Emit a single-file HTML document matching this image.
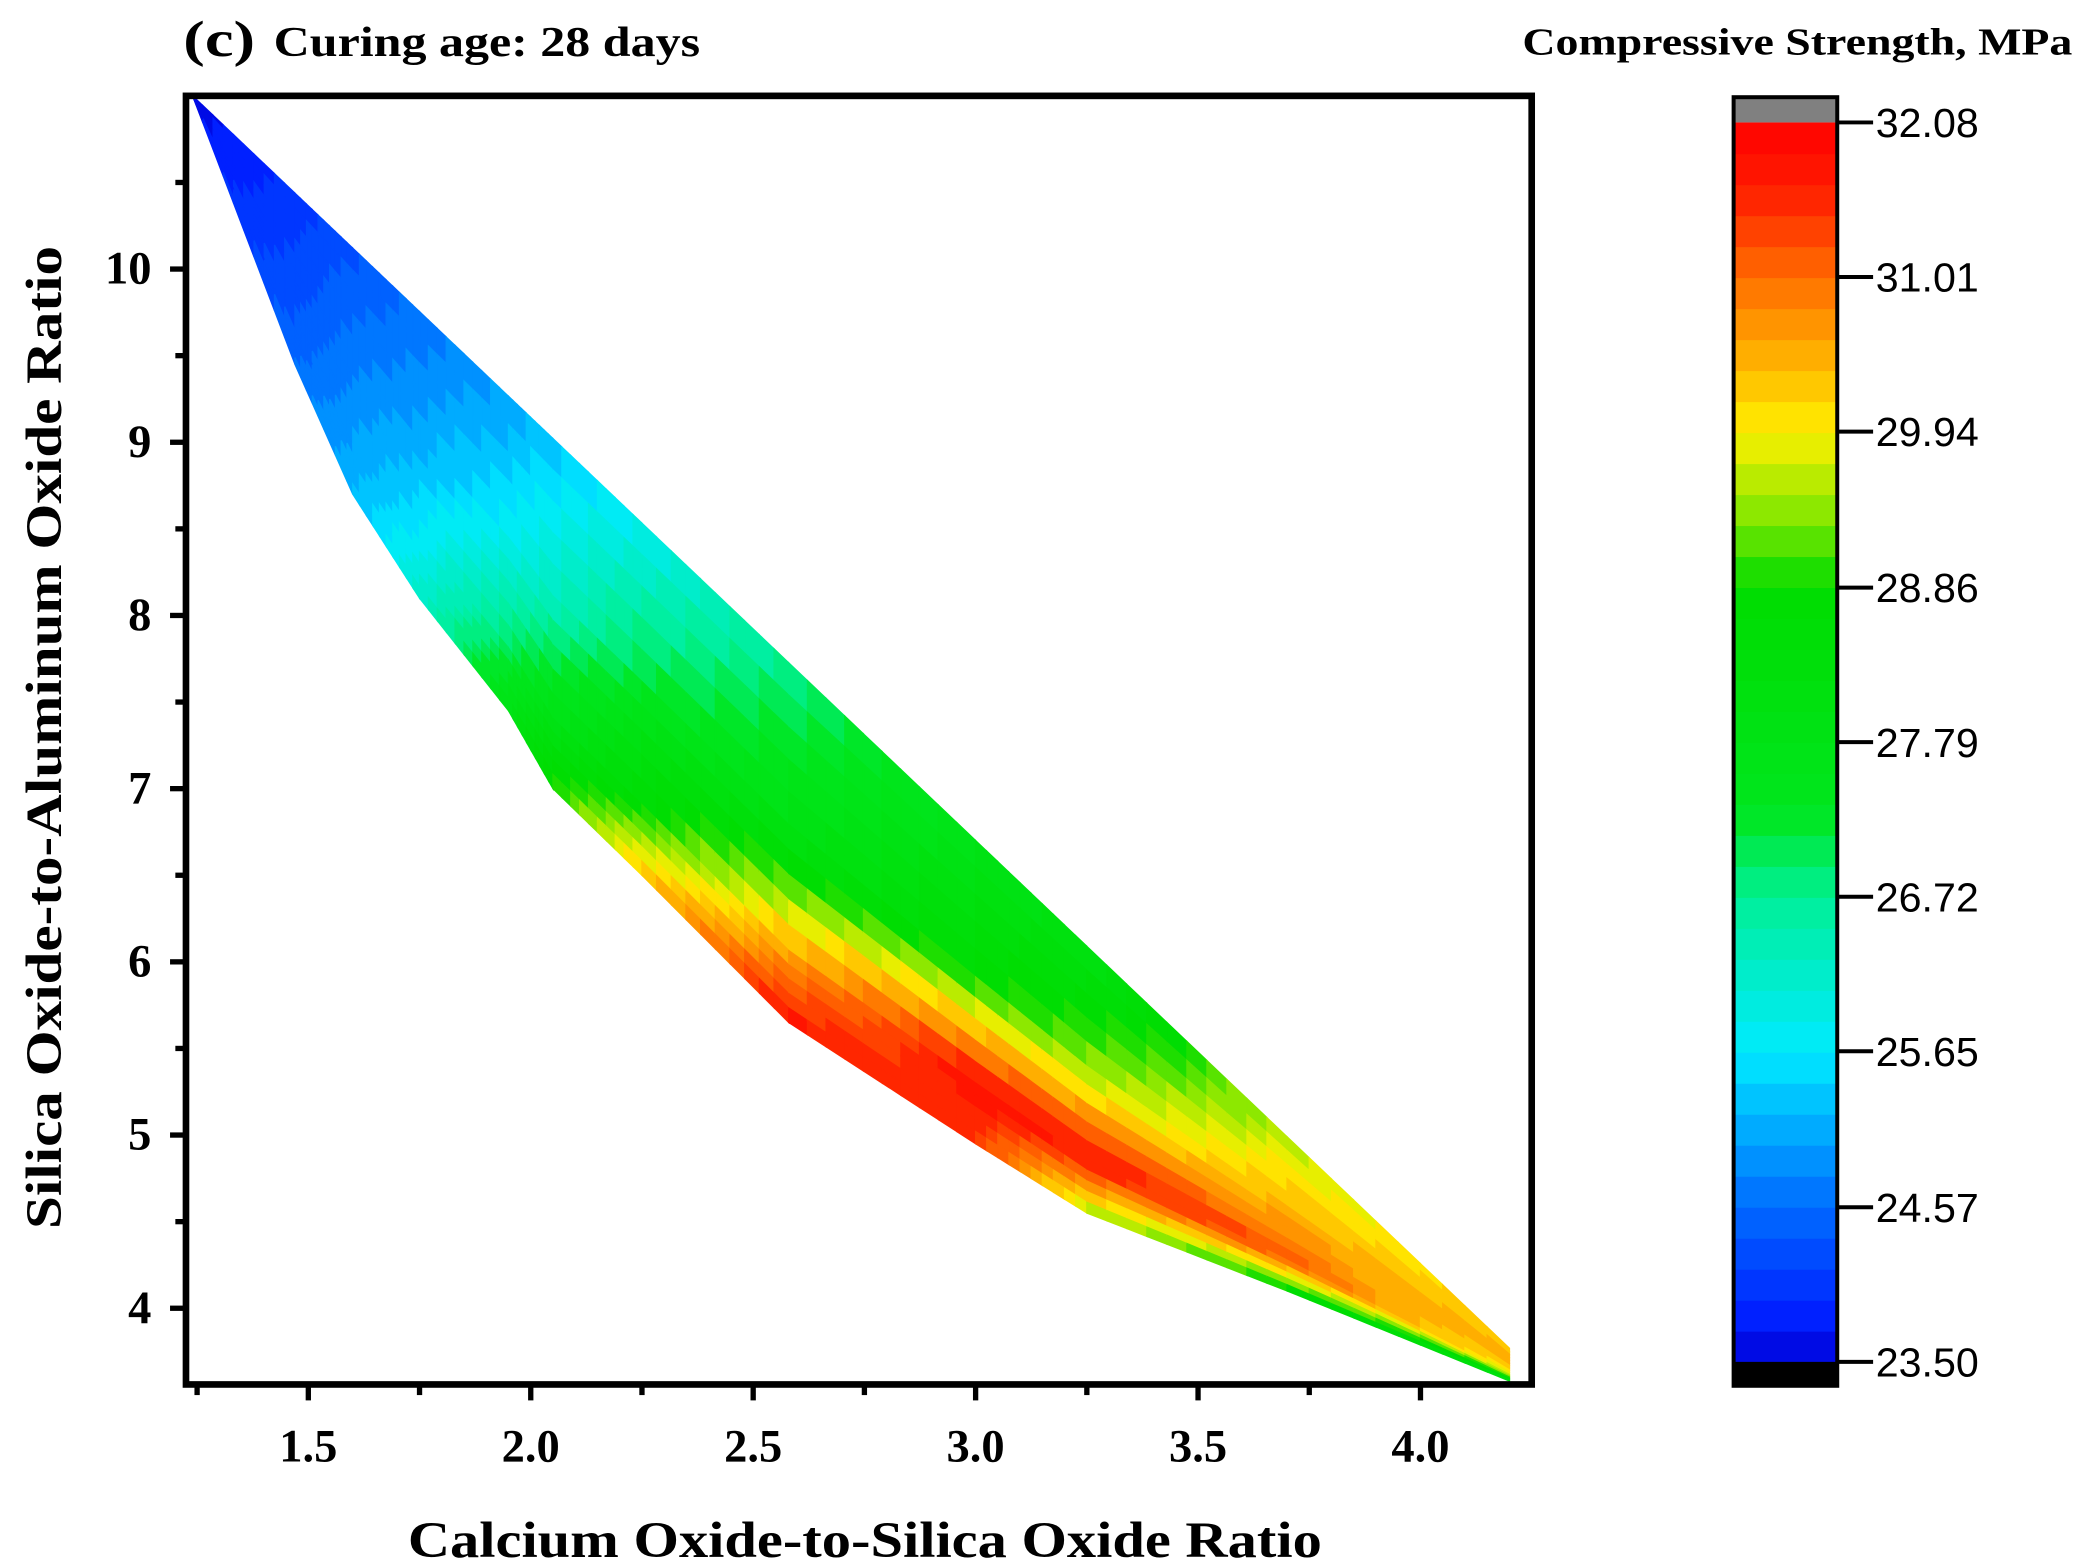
<!DOCTYPE html>
<html><head><meta charset="utf-8"><style>html,body{margin:0;padding:0;background:#fff}svg{display:block}</style></head>
<body>
<svg id="chart" width="2083" height="1568" viewBox="0 0 1568 1180" xmlns="http://www.w3.org/2000/svg">
<g id="mesh"></g>
<g id="axes"></g>
<g id="cbar"></g>
<text x="138" y="42" font-family="Liberation Serif, serif" font-weight="bold" font-size="38" textLength="54" lengthAdjust="spacingAndGlyphs">(c)</text>
<text x="206" y="42" font-family="Liberation Serif, serif" font-weight="bold" font-size="32" textLength="321" lengthAdjust="spacingAndGlyphs">Curing age: 28 days</text>
<text x="1146" y="41" font-family="Liberation Serif, serif" font-weight="bold" font-size="29" textLength="414" lengthAdjust="spacingAndGlyphs">Compressive Strength, MPa</text>
<text x="307" y="1172" font-family="Liberation Serif, serif" font-weight="bold" font-size="38" textLength="688" lengthAdjust="spacingAndGlyphs">Calcium Oxide-to-Silica Oxide Ratio</text>
<text transform="translate(46,925) rotate(-90)" font-family="Liberation Serif, serif" font-weight="bold" font-size="38" textLength="740" lengthAdjust="spacingAndGlyphs">Silica Oxide-to-Aluminum Oxide Ratio</text>
</svg>
<script>
// data sections along the band
const secX = [1.24,1.47,1.6,1.75,1.95,2.05,2.25,2.58,3.0,3.25,3.7,4.2];
const lowerY = [11.0,9.45,8.7,8.1,7.45,7.0,6.5,5.65,4.95,4.55,4.1,3.58];
const upperVal = [23.6,24.0,24.3,24.6,25.0,25.3,25.8,26.7,27.7,28.0,29.6,30.3];
const midVal   = [23.6,24.2,24.7,25.1,25.8,26.3,27.2,27.9,28.8,29.4,30.4,30.5];
const innerVal = [23.6,24.4,25.0,25.7,27.0,27.8,28.7,30.5,31.9,31.8,31.2,29.8];
const lowerVal = [23.6,24.6,25.2,26.2,27.8,29.0,30.3,31.8,31.4,29.5,28.6,28.0];
const rowFrac = [0,0.45,0.8,1];
const xTicks = [1.5,2.0,2.5,3.0,3.5,4.0];
const xTickLabels = ["1.5","2.0","2.5","3.0","3.5","4.0"];
const yTicks = [4,5,6,7,8,9,10];
const cbTicks = [23.50,24.57,25.65,26.72,27.79,28.86,29.94,31.01,32.08];
const vMin = 23.5, vMax = 32.08;

const NS="http://www.w3.org/2000/svg";
const X0=1.225,X1=4.25,PX0=140,PX1=1153;
const Y0=3.56,Y1=11.0,PY0=1042,PY1=72;
const sx=v=>PX0+(v-X0)/(X1-X0)*(PX1-PX0);
const sy=v=>PY0+(v-Y0)/(Y1-Y0)*(PY1-PY0);
const upperY=x=>11.0-2.443*(x-1.24);
function lerp(a,b,t){return a+(b-a)*t;}
const stops=[[23.5,[0,0,200]],[23.7,[0,20,255]],[24.6,[0,110,255]],[25.65,[0,235,255]],[26.72,[0,240,150]],[27.3,[0,230,30]],[28.86,[0,220,0]],[29.3,[120,230,0]],[29.94,[255,240,0]],[30.5,[255,170,0]],[31.0,[255,110,0]],[31.6,[255,30,0]],[32.08,[255,0,0]]];
function color(v){
  const step=(vMax-vMin)/40;
  v=vMin+(Math.floor((v-vMin)/step)+0.5)*step;
  if(v<=stops[0][0])return 'rgb('+stops[0][1]+')';
  for(let i=1;i<stops.length;i++){if(v<=stops[i][0]){const t=(v-stops[i-1][0])/(stops[i][0]-stops[i-1][0]);const a=stops[i-1][1],b=stops[i][1];return 'rgb('+a.map((c,k)=>Math.round(lerp(c,b[k],t))).join(',')+')';}}
  return 'rgb(255,0,0)';
}
const mesh=document.getElementById('mesh');
const rows=[upperVal,midVal,innerVal,lowerVal];
function pt(i,f){const x=secX[i];const uy=upperY(x);return [x,lerp(uy,lowerY[i],f)];}
const NU=10,NV=5;
for(let i=0;i<secX.length-1;i++){
  for(let r=0;r<3;r++){
    for(let a=0;a<NU;a++)for(let b=0;b<NV;b++){
      const corners=[[a,b],[a+1,b],[a+1,b+1],[a,b+1]].map(([u,v])=>{
        const t=u/NU,fr=lerp(rowFrac[r],rowFrac[r+1],v/NV);
        const p1=pt(i,fr),p2=pt(i+1,fr);
        return [sx(lerp(p1[0],p2[0],t)),sy(lerp(p1[1],p2[1],t))];});
      const tu=(a+0.5)/NU,tv=(b+0.5)/NV;
      const va=lerp(rows[r][i],rows[r+1][i],tv),vb=lerp(rows[r][i+1],rows[r+1][i+1],tv);
      const c=color(lerp(va,vb,tu));
      const p=document.createElementNS(NS,'polygon');
      p.setAttribute('points',corners.map(q=>q.join(',')).join(' '));
      p.setAttribute('fill',c);p.setAttribute('stroke',c);p.setAttribute('stroke-width','1');
      
      
      mesh.appendChild(p);
    }
  }
}
const axes=document.getElementById('axes');
function el(tag,attrs,parent,txt){const e=document.createElementNS(NS,tag);for(const k in attrs)e.setAttribute(k,attrs[k]);if(txt!==undefined)e.textContent=txt;parent.appendChild(e);return e;}
const frame=el('rect',{x:PX0,y:PY1,width:PX1-PX0,height:PY0-PY1,fill:'none',stroke:'#000','stroke-width':5},axes);


for(let k=0;k<xTicks.length;k++){
  const x=sx(xTicks[k]);
  el('line',{x1:x,y1:PY0,x2:x,y2:PY0+12,stroke:'#000','stroke-width':4},axes);
  const m=sx(xTicks[k]-0.25);
  el('line',{x1:m,y1:PY0,x2:m,y2:PY0+8,stroke:'#000','stroke-width':4},axes);
  const t=el('text',{x:x,y:PY0+58,'text-anchor':'middle','font-family':'Liberation Serif, serif','font-weight':'bold','font-size':35},axes,xTickLabels[k]);
  
  
}
for(let k=0;k<yTicks.length;k++){
  const y=sy(yTicks[k]);
  el('line',{x1:PX0-12,y1:y,x2:PX0,y2:y,stroke:'#000','stroke-width':4},axes);
  [yTicks[k]-0.5].forEach(v=>{if(v>Y0){const m=sy(v);el('line',{x1:PX0-8,y1:m,x2:PX0,y2:m,stroke:'#000','stroke-width':4},axes);}});
  const t=el('text',{x:PX0-26,y:y+11,'text-anchor':'end','font-family':'Liberation Serif, serif','font-weight':'bold','font-size':35},axes,String(yTicks[k]));
  
  
}
el('line',{x1:PX0-8,y1:sy(10.5),x2:PX0,y2:sy(10.5),stroke:'#000','stroke-width':4},axes);
// colorbar
const cb=document.getElementById('cbar');
const CX=1305,CW=78,CT=92,CB=1025;
const cy=v=>CB+(v-vMin)/(vMax-vMin)*(CT-CB);
const step=(vMax-vMin)/40;
for(let k=0;k<40;k++){const v0=vMin+k*step;const r=el('rect',{x:CX,y:cy(v0+step),width:CW,height:cy(v0)-cy(v0+step)+0.6,fill:color(v0+step/2)},cb);

}
el('rect',{x:CX,y:73,width:CW,height:CT-73,fill:'#808080'},cb);
el('rect',{x:CX,y:CB,width:CW,height:1043-CB,fill:'#000'},cb);
el('rect',{x:CX,y:73,width:CW,height:970,fill:'none',stroke:'#000','stroke-width':3},cb);
cbTicks.forEach(v=>{const y=cy(v);el('line',{x1:CX+CW,y1:y,x2:CX+CW+27,y2:y,stroke:'#000','stroke-width':3},cb);
const t=el('text',{x:1412,y:y+11,'font-family':'Liberation Sans, sans-serif','font-size':31},cb,v.toFixed(2));

});
</script>
</body></html>
